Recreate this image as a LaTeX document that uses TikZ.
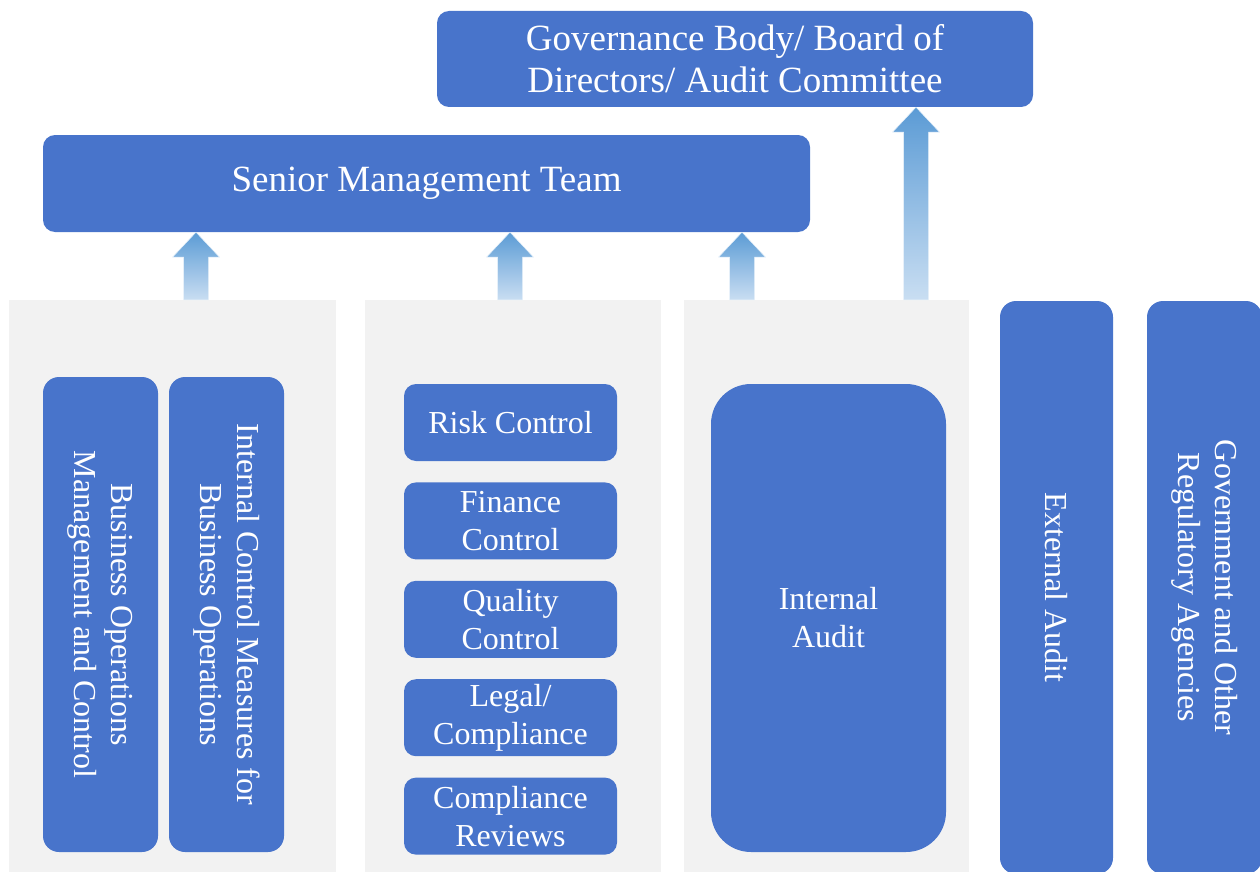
\documentclass[tikz,border=0pt]{standalone}
\usepackage{fontspec}
\setmainfont{Liberation Serif}
\usetikzlibrary{positioning, calc}
\definecolor{boxblue}{HTML}{4874CB}
\definecolor{panelgray}{HTML}{F2F2F2}
\definecolor{arrowtop}{HTML}{5B9BD5}
\definecolor{arrowbot}{HTML}{C9DEF2}

% broad upward arrow from #1 (foot) to #2 (tip)
\newcommand{\liftarrow}[2]{%
  \shade[liftshade] let \p1=(#1), \p2=(#2) in
    (\x1-12.5pt,\y1) -- (\x1-12.5pt,\y2-25pt) -- (\x1-23.5pt,\y2-25pt) -- (\x2,\y2)
    -- (\x1+23.5pt,\y2-25pt) -- (\x1+12.5pt,\y2-25pt) -- (\x1+12.5pt,\y1) -- cycle;
}

\begin{document}
\begin{tikzpicture}[x=1pt, y=-1pt,
    % Define the style of the wide boxes on top
    topbox/.style={rectangle, rounded corners=12pt, fill=boxblue, text=white, align=center,
      inner sep=0pt, font=\fontsize{37}{42}\selectfont},
    % Define the style of the control function boxes
    ctrl/.style={rectangle, rounded corners=12pt, fill=boxblue, text=white, align=center,
      inner sep=0pt, minimum width=213pt, minimum height=77pt, font=\fontsize{32}{38}\selectfont},
    % Define the style of the upright boxes with turned text
    vbox/.style={rectangle, rounded corners=16pt, fill=boxblue, text=white, align=center,
      inner sep=0pt, rotate=-90, font=\fontsize{32}{37}\selectfont},
    % Define the style of the grey lanes
    lane/.style={rectangle, fill=panelgray, inner sep=0pt},
    % Define the style of the broad arrows
    liftshade/.style={top color=arrowtop, bottom color=arrowbot, draw=white!60!arrowbot, line width=0.5pt}
  ]
  \useasboundingbox (0,0) rectangle (1260,872);

  % Grey lanes
  \node[lane, minimum width=327pt, minimum height=572pt] (lane1) at (172.5,586) {};
  \node[lane, minimum width=296pt, minimum height=572pt] (lane2) at (513,586) {};
  \node[lane, minimum width=285pt, minimum height=572pt] (lane3) at (826.5,586) {};

  % Top boxes
  \node[topbox, minimum width=596pt, minimum height=96pt] (board) at (735,59)
    {Governance Body/ Board of\\Directors/ Audit Committee};
  \node[topbox, minimum width=767pt, minimum height=97pt] (senior) at (426.5,183.5)
    {Senior Management Team};

  % Arrows up
  \foreach \ax/\ln in {196/lane1, 510/lane2, 742/lane3} {
    \liftarrow{\ln.north -| \ax,0}{senior.south -| \ax,0}
  }
  \liftarrow{lane3.north -| 916,0}{board.south -| 916,0}

  % First lane
  \node[vbox, minimum width=475pt, minimum height=115pt] (bizops) at (100.5,614.5)
    {Business Operations\\Management and Control};
  \node[vbox, minimum width=475pt, minimum height=115pt] (icm) at (226.5,614.5)
    {Internal Control Measures for\\Business Operations};

  % Second lane
  \node[ctrl] (risk) at (510.5,422.5) {Risk Control};
  \node[ctrl, below=21pt of risk] (finance) {Finance\\Control};
  \node[ctrl, below=21pt of finance] (quality) {Quality\\Control};
  \node[ctrl, below=21pt of quality] (legal) {Legal/\\Compliance};
  \node[ctrl, below=21pt of legal] (review) {Compliance\\Reviews};

  % Third lane
  \node[ctrl, rounded corners=40pt, minimum width=235pt, minimum height=468pt] (intaudit)
    at (828.5,618) {Internal\\Audit};

  % Outside parties
  \node[vbox, minimum width=573pt, minimum height=113pt] (extaudit) at (1056.5,587.5)
    {External Audit};
  \node[vbox, minimum width=573pt, minimum height=115pt] (govt) at (1204.5,587.5)
    {Government and Other\\Regulatory Agencies};
\end{tikzpicture}
\end{document}
